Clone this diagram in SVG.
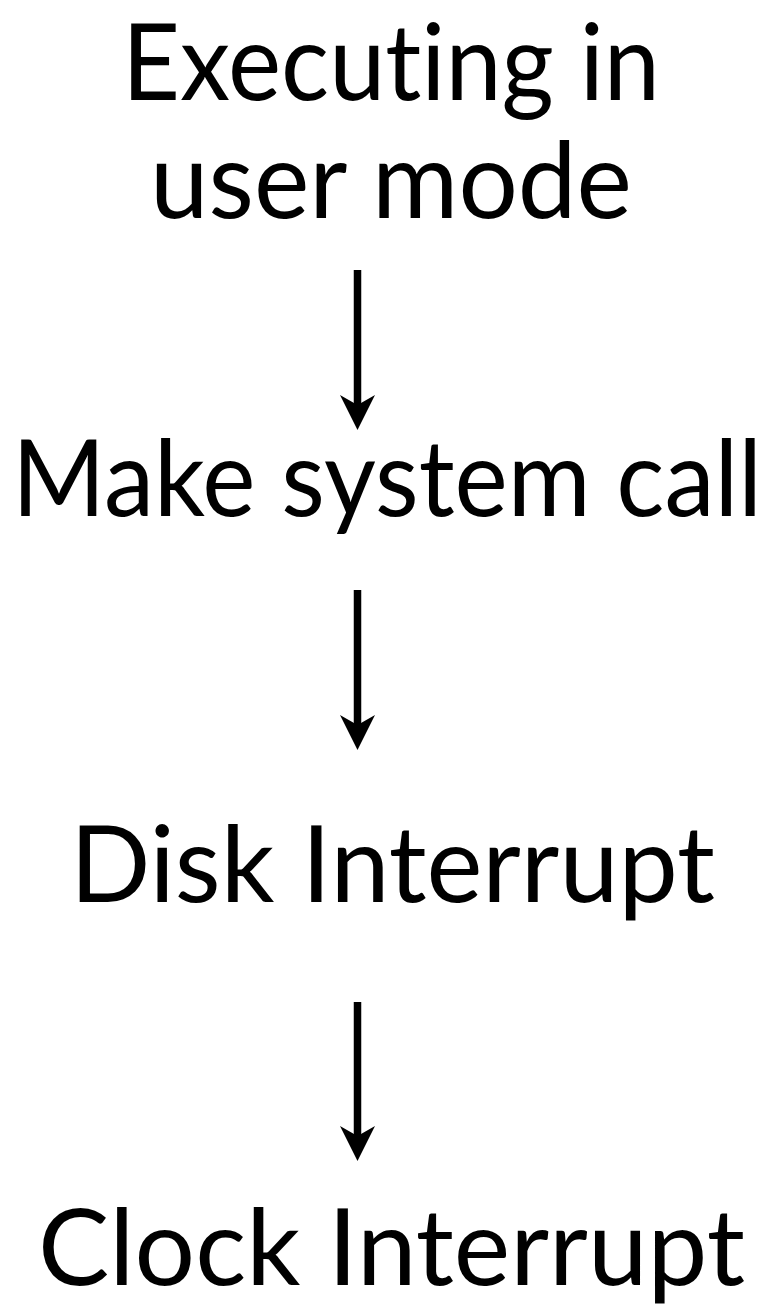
<svg xmlns="http://www.w3.org/2000/svg" width="775" height="1312" viewBox="0 0 775 1312">
<style>
.t{font-family:"Lato","Noto Sans","Liberation Sans",sans-serif;font-size:106px;fill:#000;font-variant-ligatures:none;font-feature-settings:"liga" 0,"clig" 0}
.c{stroke:#000;stroke-width:7.5;fill:none}
</style>
<defs>
<marker id="ah" viewBox="0 0 35 35" markerWidth="35" markerHeight="35" refX="10" refY="17.5" markerUnits="userSpaceOnUse" orient="auto">
<path d="M0,0 L35,17.5 L0,35 L10,17.5 Z" fill="#000"/>
</marker>
</defs>
<rect width="775" height="1312" fill="#fff"/>
<g id="n1">
<text class="t" x="122" y="100" textLength="538" lengthAdjust="spacingAndGlyphs">Executing in</text>
<text class="t" x="150" y="218" textLength="482" lengthAdjust="spacingAndGlyphs">user mode</text>
</g>
<g id="n2"><text class="t" x="12" y="516" textLength="750" lengthAdjust="spacingAndGlyphs">Make system call</text></g>
<g id="n3"><text class="t" x="70" y="902" textLength="645" lengthAdjust="spacingAndGlyphs">Disk Interrupt</text></g>
<g id="n4"><text class="t" x="38" y="1285" textLength="707" lengthAdjust="spacingAndGlyphs">Clock Interrupt</text></g>
<g id="connectors">
<path class="c" d="M357.5,270 V405" marker-end="url(#ah)"/>
<path class="c" d="M357.5,590 V725" marker-end="url(#ah)"/>
<path class="c" d="M357.5,1002 V1136" marker-end="url(#ah)"/>
</g>
</svg>
